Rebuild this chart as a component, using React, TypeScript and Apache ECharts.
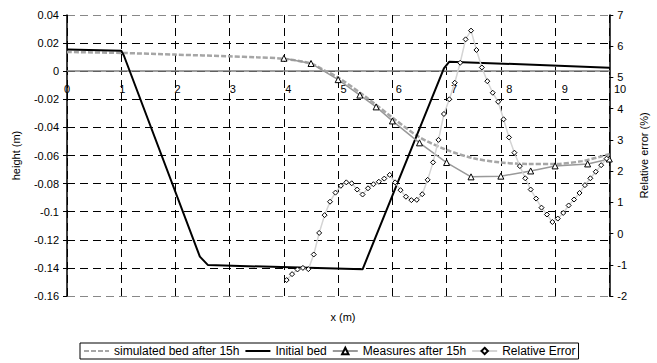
import React, { useEffect, useRef } from "react";
import * as echarts from "echarts";

const bedX = [0, 1, 1.05, 2.45, 2.6, 5.45, 6.95, 7.05, 10];
const initialBed = [0.0155, 0.0145, 0.011, -0.132, -0.138, -0.141, 0.002, 0.0068, 0.0025];

const simX = [0, 1, 2, 3, 3.5, 4, 4.5, 4.75, 5, 5.5, 6, 6.5, 7, 7.5, 8, 8.5, 9, 9.5, 10];
const simulatedBed = [0.0137, 0.013, 0.0118, 0.0106, 0.0099, 0.0088, 0.0055, 0.0005, -0.0045, -0.018, -0.033, -0.047, -0.056, -0.062, -0.065, -0.066, -0.066, -0.064, -0.059];

const measX = [4, 4.5, 5, 5.4, 5.7, 6, 6.5, 7, 7.45, 8, 8.55, 9, 9.6, 10];
const measures = [0.0092, 0.0055, -0.006, -0.017, -0.0254, -0.0354, -0.051, -0.065, -0.0752, -0.0747, -0.071, -0.0674, -0.066, -0.0625];

const errX = [4.05, 4.15, 4.25, 4.35, 4.45, 4.55, 4.65, 4.75, 4.85, 4.95, 5.05, 5.15, 5.25, 5.35, 5.45, 5.55, 5.65, 5.75, 5.85, 5.95, 6.05, 6.15, 6.25, 6.35, 6.45, 6.55, 6.65, 6.75, 6.85, 6.95, 7.05, 7.15, 7.25, 7.35, 7.45, 7.55, 7.65, 7.75, 7.85, 7.95, 8.05, 8.15, 8.25, 8.35, 8.45, 8.55, 8.65, 8.75, 8.85, 8.95, 9.05, 9.15, 9.25, 9.35, 9.45, 9.55, 9.65, 9.75, 9.85, 9.95];
const relError = [-1.49, -1.3, -1.15, -1.1, -1.14, -0.67, 0.02, 0.59, 1.02, 1.31, 1.53, 1.64, 1.61, 1.41, 1.25, 1.45, 1.58, 1.66, 1.76, 1.88, 1.64, 1.39, 1.18, 1.07, 1.08, 1.26, 1.72, 2.28, 3.0, 3.83, 4.3, 4.83, 5.47, 6.22, 6.5, 5.88, 5.32, 4.88, 4.51, 4.22, 3.66, 3.08, 2.59, 2.16, 1.77, 1.41, 1.12, 0.83, 0.61, 0.37, 0.48, 0.66, 0.9, 1.09, 1.3, 1.55, 1.77, 1.98, 2.19, 2.4];

const seriesNames = ["simulated bed after 15h", "Initial bed", "Measures after 15h", "Relative Error"];

const FONT = "'Liberation Sans', Arial, sans-serif";

const zip = (xs: number[], ys: number[]) => xs.map((x, i) => [x, ys[i]]);

export default function App() {
  const ref = useRef<HTMLDivElement>(null);
  useEffect(() => {
    if (!ref.current) return;
    const chart = echarts.init(ref.current, null, { renderer: "svg" });
    const yLineColors = ["#888", "#000", "#000", "#000", "#000", "#000", "#000", "#000", "#000", "#000", "#888"];
    chart.setOption({
      animation: false,
      textStyle: { fontFamily: FONT },
      grid: [
        { left: 67, right: 37, top: 15, bottom: 67, containLabel: false },
        { left: 67, right: 37, top: 15, height: 56, containLabel: false },
      ],
      legend: {
        data: [
          { name: seriesNames[0], itemStyle: { opacity: 0 } },
          { name: seriesNames[1], itemStyle: { opacity: 0 } },
          { name: seriesNames[2] },
          { name: seriesNames[3] },
        ],
        left: 80,
        top: 343,
        padding: [2, 3],
        itemWidth: 25,
        itemHeight: 8,
        itemGap: 5,
        borderColor: "#000",
        borderWidth: 1,
        textStyle: { fontSize: 12, color: "#000", fontFamily: FONT },
      },
      graphic: [
        {
          type: "text",
          x: 343,
          y: 317,
          style: { text: "x (m)", fontSize: 11, fill: "#000", fontFamily: FONT, textAlign: "center", textVerticalAlign: "middle" },
        },
      ],
      xAxis: [
        {
          type: "value",
          min: 0,
          max: 10,
          interval: 1,
          axisLine: { onZero: true, onZeroAxisIndex: 0, lineStyle: { color: "#808080", width: 1.5 } },
          axisTick: { show: false },
          axisLabel: { show: false },
          splitLine: { show: true, lineStyle: { color: "#000", type: [8, 5], width: 1 } },
        },
        {
          type: "value",
          gridIndex: 1,
          min: 0,
          max: 10,
          interval: 1,
          position: "bottom",
          axisLine: { show: false, onZero: false },
          axisTick: { show: false },
          splitLine: { show: false },
          axisLabel: { fontSize: 11, color: "#000", margin: 12, fontFamily: FONT },
        },
      ],
      yAxis: [
        {
          type: "value",
          min: -0.16,
          max: 0.04,
          interval: 0.02,
          name: "height (m)",
          nameLocation: "middle",
          nameRotate: 90,
          nameGap: 46,
          nameTextStyle: { fontSize: 11, color: "#000", fontFamily: FONT },
          axisLine: { show: true, onZero: false, lineStyle: { color: "#000", width: 1.5 } },
          axisTick: { show: true, length: 4, lineStyle: { color: "#000" } },
          axisLabel: {
            fontSize: 11,
            color: "#000",
            margin: 8,
            fontFamily: FONT,
            formatter: (v: number) => String(parseFloat(v.toFixed(2))),
          },
          splitLine: { show: true, lineStyle: { color: yLineColors, type: [8, 5], width: 1 } },
        },
        {
          type: "value",
          min: -2,
          max: 7,
          interval: 1,
          position: "right",
          name: "Relative error (%)",
          nameLocation: "middle",
          nameRotate: 90,
          nameGap: 27,
          nameTextStyle: { fontSize: 11, color: "#000", fontFamily: FONT },
          axisLine: { show: true, onZero: false, lineStyle: { color: "#000", width: 1.5 } },
          axisTick: { show: true, length: 4, lineStyle: { color: "#000" } },
          axisLabel: { fontSize: 11, color: "#000", margin: 8, fontFamily: FONT },
          splitLine: { show: false },
        },
        {
          type: "value",
          gridIndex: 1,
          min: 0,
          max: 1,
          show: false,
        },
      ],
      series: [
        {
          name: seriesNames[0],
          type: "line",
          data: zip(simX, simulatedBed),
          symbol: "none",
          smooth: 0.3,
          lineStyle: { color: "#a6a6a6", width: 2.5, type: [5, 2] },
          itemStyle: { color: "#a6a6a6" },
        },
        {
          name: seriesNames[1],
          type: "line",
          data: zip(bedX, initialBed),
          symbol: "none",
          lineStyle: { color: "#000", width: 2 },
          itemStyle: { color: "#000" },
        },
        {
          name: seriesNames[2],
          type: "line",
          data: zip(measX, measures),
          symbol: "triangle",
          symbolSize: 6,
          lineStyle: { color: "#999", width: 1.5 },
          itemStyle: { color: "#fff", borderColor: "#000", borderWidth: 1 },
        },
        {
          name: seriesNames[3],
          type: "line",
          yAxisIndex: 1,
          data: zip(errX, relError),
          symbol: "diamond",
          symbolSize: 5,
          lineStyle: { color: "#d4d4d4", width: 1.5 },
          itemStyle: { color: "#fff", borderColor: "#000", borderWidth: 1 },
        },
      ],
    });
    return () => chart.dispose();
  }, []);
  return <div ref={ref} style={{ position: "absolute", left: 0, top: 0, width: 657, height: 363 }} />;
}
